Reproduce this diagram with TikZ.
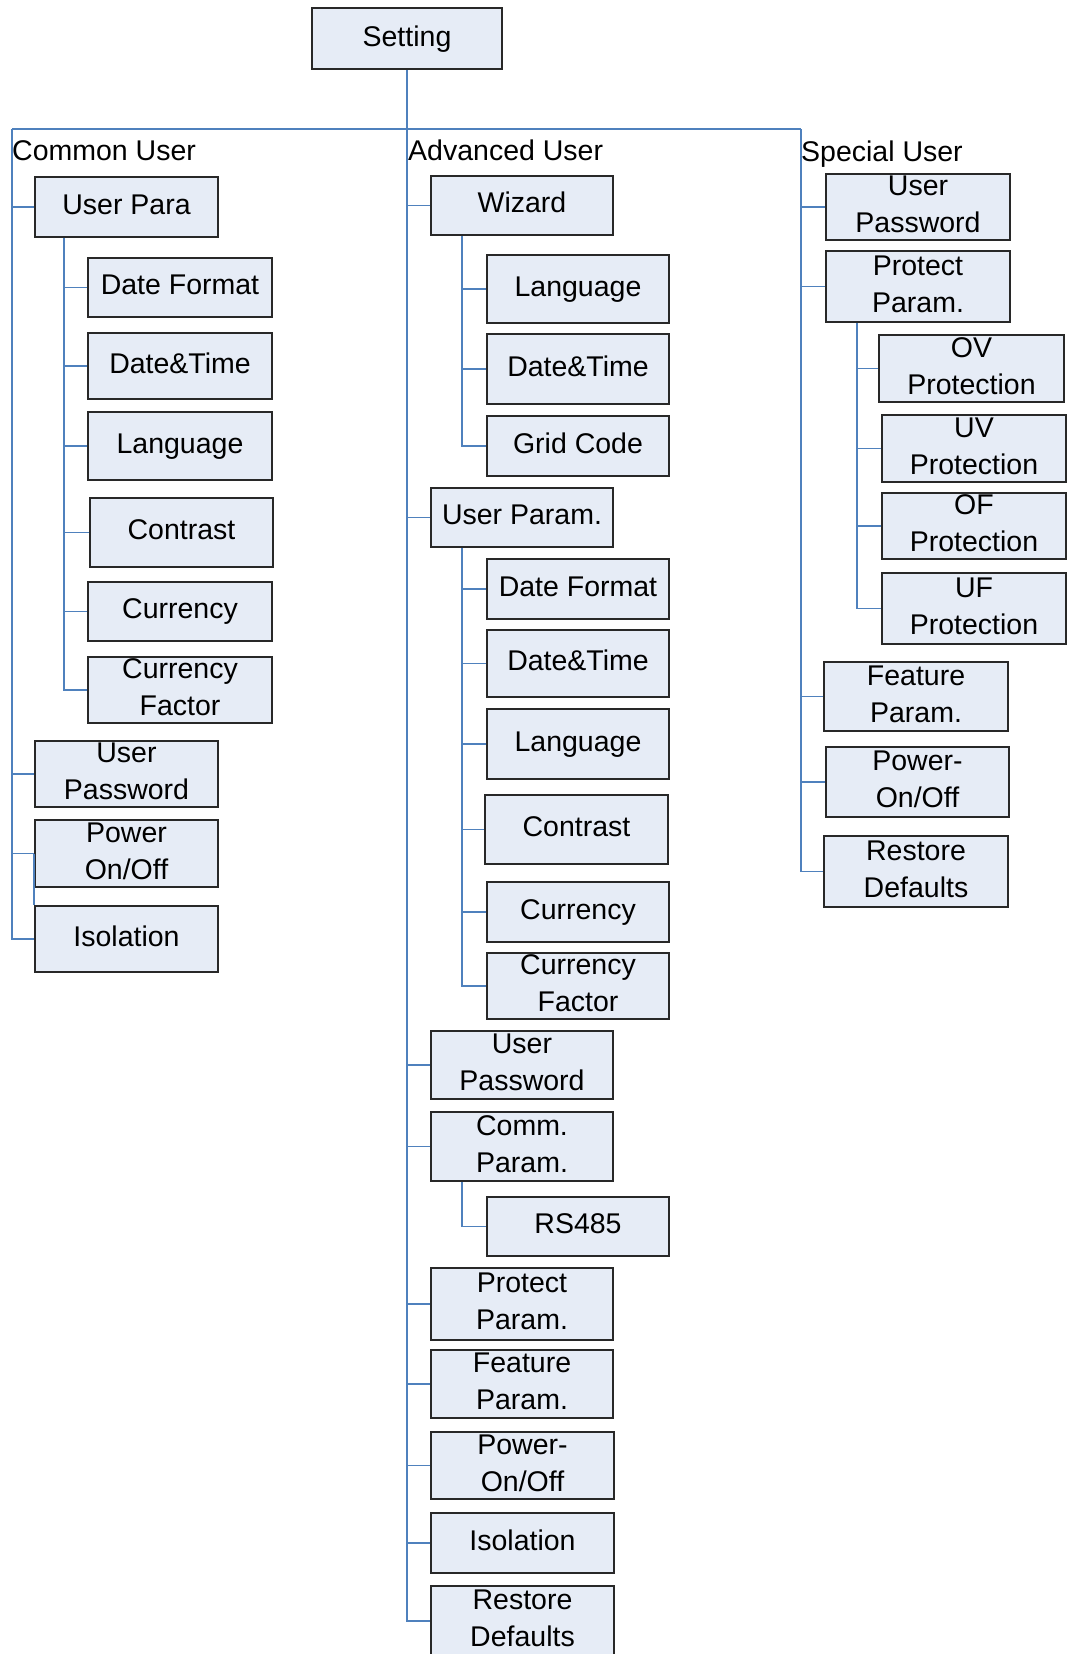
\documentclass[tikz,border=0pt]{standalone}
\usepackage{fontspec}
\setmainfont{Liberation Sans}
\usetikzlibrary{calc}
\definecolor{lnblue}{RGB}{79,129,189}
\definecolor{boxfill}{RGB}{230,236,246}
\definecolor{boxline}{RGB}{40,40,40}
\begin{document}
\begin{tikzpicture}[x=1pt,y=-1pt,
  box/.style={draw=boxline, line width=2pt, fill=boxfill, inner sep=0pt, align=center,
    font=\fontsize{28.5}{36.7}\selectfont, text height=21.4pt, text depth=7.1pt},
  two/.style={text height=58.1pt},
  conn/.style={draw=lnblue, line width=1.8pt},
  grp/.style={anchor=base west, inner sep=0pt, font=\fontsize{28.5}{34}\selectfont}]
\useasboundingbox (0,0) rectangle (1069,1654);

% root
\node[box, minimum width=190, minimum height=61] (set) at (407,39) {Setting};
\coordinate (barL) at (12,129);
\coordinate (barR) at (801,129);

% group labels
\node[grp] (lcu) at (12,160) {Common User};
\node[grp] (lau) at (408,160) {Advanced User};
\node[grp] (lsu) at (801,161) {Special User};

% ---- Common User ----
\node[box, minimum width=183, minimum height=60] (cuPara) at (126.5,207) {User Para};
\node[box, minimum width=184, minimum height=59] (cuDF) at (180,287.5) {Date Format};
\node[box, minimum width=184, minimum height=66] (cuDT) at (180,366) {Date\&Time};
\node[box, minimum width=184, minimum height=68] (cuLa) at (180,446) {Language};
\node[box, minimum width=183, minimum height=69] (cuCo) at (181.5,532.5) {Contrast};
\node[box, minimum width=184, minimum height=59] (cuCu) at (180,611.5) {Currency};
\node[box, two, minimum width=184, minimum height=66] (cuCF) at (180,690) {Currency\\Factor};
\node[box, two, minimum width=183, minimum height=66] (cuPwd) at (126.5,774) {User\\Password};
\node[box, two, minimum width=183, minimum height=67] (cuPow) at (126.5,853.5) {Power\\On/Off};
\node[box, minimum width=183, minimum height=66] (cuIso) at (126.5,939) {Isolation};

% ---- Advanced User ----
\node[box, minimum width=182, minimum height=59] (auWiz) at (522,205.5) {Wizard};
\node[box, minimum width=182, minimum height=68] (auWLa) at (578,289) {Language};
\node[box, minimum width=182, minimum height=70] (auWDT) at (578,369) {Date\&Time};
\node[box, minimum width=182, minimum height=60] (auWGC) at (578,446) {Grid Code};
\node[box, minimum width=182, minimum height=59] (auUP) at (522,517.5) {User Param.};
\node[box, minimum width=182, minimum height=60] (auDF) at (578,589) {Date Format};
\node[box, minimum width=182, minimum height=67] (auDT) at (578,663.5) {Date\&Time};
\node[box, minimum width=182, minimum height=70] (auLa) at (578,744) {Language};
\node[box, minimum width=183, minimum height=69] (auCo) at (576.5,829.5) {Contrast};
\node[box, minimum width=182, minimum height=60] (auCu) at (578,912) {Currency};
\node[box, two, minimum width=182, minimum height=66] (auCF) at (578,986) {Currency\\Factor};
\node[box, two, minimum width=182, minimum height=68] (auPwd) at (522,1065) {User\\Password};
\node[box, two, minimum width=182, minimum height=69] (auComm) at (522,1146.5) {Comm.\\Param.};
\node[box, minimum width=182, minimum height=59] (auRS) at (578,1226.5) {RS485};
\node[box, two, minimum width=182, minimum height=72] (auProt) at (522,1304) {Protect\\Param.};
\node[box, two, minimum width=182, minimum height=68] (auFeat) at (522,1384) {Feature\\Param.};
\node[box, two, minimum width=183, minimum height=67] (auPow) at (522.5,1465.5) {Power-\\On/Off};
\node[box, minimum width=183, minimum height=60] (auIso) at (522.5,1543) {Isolation};
\node[box, two, minimum width=183, minimum height=70] (auRes) at (522.5,1621) {Restore\\Defaults};

% ---- Special User ----
\node[box, two, minimum width=184, minimum height=66] (spPwd) at (918,207) {User\\Password};
\node[box, two, minimum width=184, minimum height=71] (spProt) at (918,286.5) {Protect\\Param.};
\node[box, two, minimum width=185, minimum height=67] (spOV) at (971.5,368.5) {OV\\Protection};
\node[box, two, minimum width=184, minimum height=67] (spUV) at (974,448.5) {UV\\Protection};
\node[box, two, minimum width=184, minimum height=64] (spOF) at (974,526) {OF\\Protection};
\node[box, two, minimum width=184, minimum height=71] (spUF) at (974,608.5) {UF\\Protection};
\node[box, two, minimum width=184, minimum height=69] (spFeat) at (916,696.5) {Feature\\Param.};
\node[box, two, minimum width=183, minimum height=70] (spPow) at (917.5,782) {Power-\\On/Off};
\node[box, two, minimum width=184, minimum height=71] (spRes) at (916,871.5) {Restore\\Defaults};

% ---- connectors ----
\draw[conn] (set.south) |- (auRes.west);
\draw[conn] (barL) -- (barR);
\draw[conn] (barL) |- (cuIso.west);
\draw[conn] (barR) |- (spRes.west);

\foreach \n in {cuPara,cuPwd,cuPow}
  \draw[conn] (\n.west) -- (\n.west -| barL);
\foreach \n in {auWiz,auUP,auPwd,auComm,auProt,auFeat,auPow,auIso}
  \draw[conn] (\n.west) -- (\n.west -| set.south);
\foreach \n in {spPwd,spProt,spFeat,spPow}
  \draw[conn] (\n.west) -- (\n.west -| barR);

% sub branches
\coordinate (cuSub) at ($(cuPara.south west)+(30,0)$);
\draw[conn] (cuSub) |- (cuCF.west);
\foreach \n in {cuDF,cuDT,cuLa,cuCo,cuCu}
  \draw[conn] (\n.west) -- (\n.west -| cuSub);
\draw[conn] (cuPow.west) -- (cuPow.west |- cuIso.north);

\coordinate (wizSub) at ($(auWiz.south west)+(32,0)$);
\draw[conn] (wizSub) |- (auWGC.west);
\foreach \n in {auWLa,auWDT}
  \draw[conn] (\n.west) -- (\n.west -| wizSub);

\coordinate (upSub) at ($(auUP.south west)+(32,0)$);
\draw[conn] (upSub) |- (auCF.west);
\foreach \n in {auDF,auDT,auLa,auCo,auCu}
  \draw[conn] (\n.west) -- (\n.west -| upSub);

\coordinate (commSub) at ($(auComm.south west)+(32,0)$);
\draw[conn] (commSub) |- (auRS.west);

\coordinate (spSub) at ($(spProt.south west)+(32,0)$);
\draw[conn] (spSub) |- (spUF.west);
\foreach \n in {spOV,spUV,spOF}
  \draw[conn] (\n.west) -- (\n.west -| spSub);
\end{tikzpicture}
\end{document}
